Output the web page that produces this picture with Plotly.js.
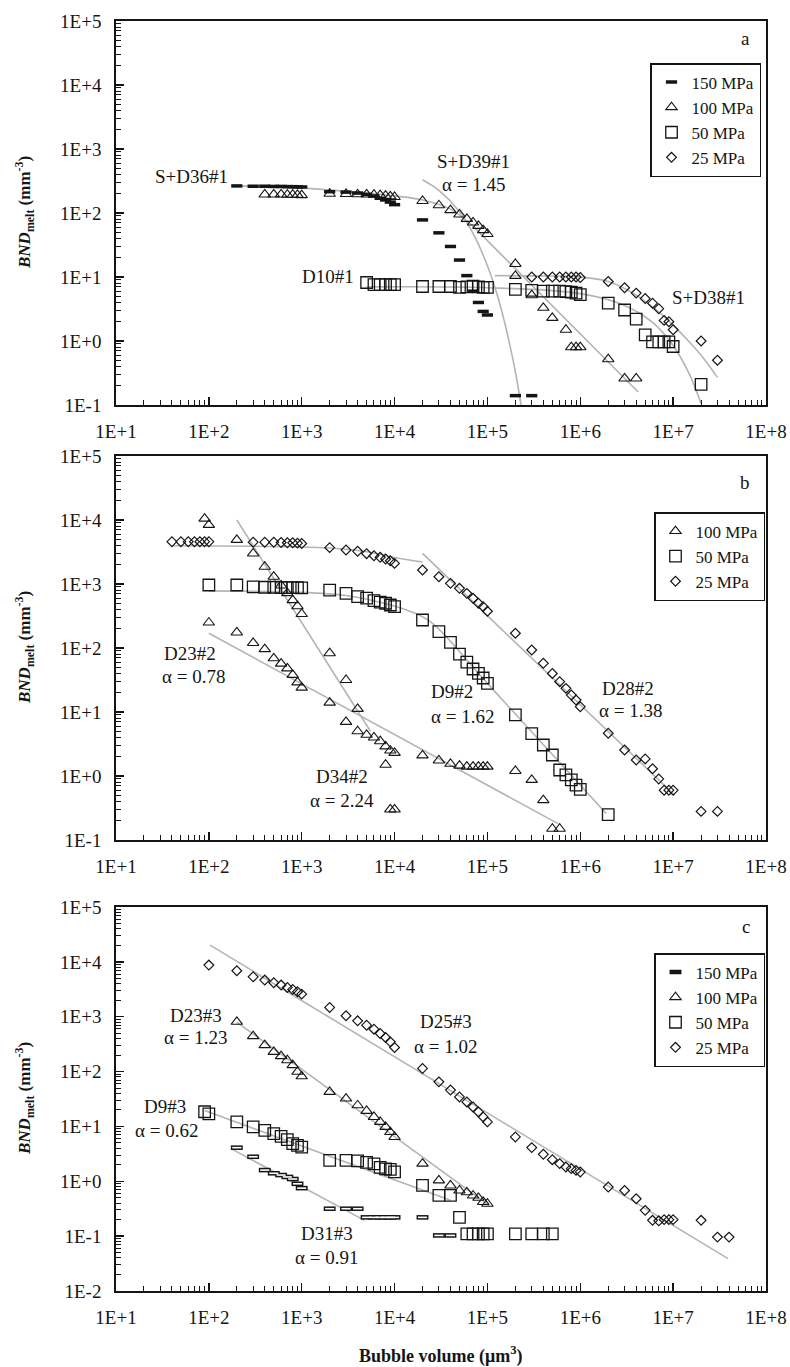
<!DOCTYPE html>
<html><head><meta charset="utf-8">
<script src="https://cdn.plot.ly/plotly-3.0.1.min.js"></script>
<style>html,body{margin:0;padding:0;background:#fff}#chart{width:790px;height:1367px}</style>
</head><body><div id="chart"></div>
<script>
// ================= DATA =================
// ---- Panel a ----
const a150_x = [2e2,3e2,4e2,5e2,6e2,7e2,8e2,9e2,1e3, 2e3,3e3,4e3,5e3,6e3,7e3,8e3,9e3,1e4, 2e4,3e4,4e4,5e4,6e4,7e4,8e4,9e4,1e5, 2e5,3e5];
const a150_y = [265,262,262,260,260,258,258,256,255, 215,212,205,195,185,170,160,148,135, 78,49,30,18.4,10.5,6,4,2.9,2.55, 0.14,0.14];
const a100_x = [4e2,5e2,6e2,7e2,8e2,9e2,1e3, 2e3,3e3,4e3,5e3,6e3,7e3,8e3,9e3,1e4, 2e4,3e4,4e4,5e4,6e4,7e4,8e4,9e4,1e5, 2e5,2e5, 3e5,4e5,5e5,7e5,8e5,9e5,1e6, 2e6,3e6,4e6];
const a100_y = [195,195,195,193,193,192,190, 200,198,196,195,193,190,186,182,178, 154,132,111,95,81,71,63,54,47, 16,10.4, 5.2,3.3,2.3,1.5,0.8,0.8,0.8, 0.52,0.26,0.26];
const a50_x = [5e3,6e3,7e3,8e3,9e3,1e4, 2e4,3e4,4e4,5e4,6e4,7e4,8e4,9e4,1e5, 2e5,3e5,4e5,5e5,6e5,7e5,8e5,9e5,1e6, 2e6,3e6,4e6,5e6,6e6,7e6,8e6,9e6,1e7, 2e7];
const a50_y = [8.2,7.6,7.6,7.6,7.6,7.6, 7.1,7.1,7.1,6.9,7.0,7.2,7.0,6.9,6.9, 6.4,6.2,6.0,6.0,6.0,5.9,5.8,5.6,5.3, 3.9,3.05,2.2,1.25,0.97,0.97,0.97,0.97,0.82, 0.21];
const a25_x = [3e5,4e5,5e5,6e5,7e5,8e5,9e5,1e6, 2e6,3e6,4e6,5e6,6e6,7e6,8e6,9e6,1e7, 2e7,3e7];
const a25_y = [10,10,10,10,10,10,10,9.8, 8.5,6.8,5.6,4.6,3.9,3.2,2.1,2.0,1.5, 1.0,0.5];
// fitted curves, panel a
const fitA_S36_x = [2e4,3e4,5e4,7e4,1e5,1.3e5,1.6e5,2e5,2.3e5];
const fitA_S36_y = [330,225,105,48,15,4.8,1.5,0.33,0.1];
const fitA_S39_x = [2e2,1e3,5e3,1e4,2e4,4e4,7e4,1e5,2e5,4.2e6];
const fitA_S39_y = [265,245,205,185,160,115,62,37,13.5,0.16];
const fitA_D10_x = [5e3,1e5,1e6,3e6,6e6,1e7,1.5e7,2e7];
const fitA_D10_y = [7.0,6.8,5.5,3.6,1.95,0.85,0.3,0.105];
const fitA_S38_x = [1.2e5,3e5,1e6,2e6,4e6,8e6,1.3e7,2e7,3e7];
const fitA_S38_y = [10.5,10.4,10,8.5,5.2,2.4,1.2,0.6,0.27];

// ---- Panel b ----
const bD34_x = [9e1,1e2,2e2,3e2,4e2,5e2,6e2,7e2,8e2,9e2,1e3, 2e3,3e3,4e3, 8e3,9e3,1e4];
const bD34_y = [10500,8400,4900,3000,1860,1300,950,720,560,450,340, 83,31.6,11.2, 1.5,0.3,0.3];
const bD23_x = [1e2,2e2,3e2,4e2,5e2,6e2,7e2,8e2,9e2,1e3, 2e3, 3e3,4e3,5e3,6e3,7e3,8e3,9e3,1e4, 2e4,3e4,4e4,5e4,6e4,7e4,8e4,9e4,1e5, 2e5,3e5,4e5,5e5,6e5];
const bD23_y = [250,175,120,96,69,57,48,38,29,24, 14, 7.0,5.0,4.4,4.0,3.5,2.9,2.5,2.3, 2.1,1.75,1.55,1.45,1.4,1.4,1.4,1.4,1.4, 1.2,0.87,0.42,0.15,0.15];
const b50_x = [1e2,2e2,3e2,4e2,5e2,6e2,7e2,8e2,9e2,1e3, 2e3,3e3,4e3,5e3,6e3,7e3,8e3,9e3,1e4, 2e4,3e4,4e4,5e4,6e4,7e4,8e4,9e4,1e5, 2e5,3e5,4e5,5e5,6e5,7e5,8e5,9e5,1e6, 2e6];
const b50_y = [964,964,900,890,890,880,880,880,875,870, 800,714,634,600,550,520,500,470,443, 274,180,122,80,60,47,40,34,28, 9.0,4.6,3.05,2.13,1.24,1.04,0.87,0.72,0.62, 0.25];
const b25_x = [4e1,5e1,6e1,7e1,8e1,9e1,1e2, 3e2,4e2,5e2,6e2,7e2,8e2,9e2,1e3, 2e3,3e3,4e3,5e3,6e3,7e3,8e3,9e3,1e4, 2e4,3e4,4e4,5e4,6e4,7e4,8e4,9e4,1e5, 2e5,3e5,4e5,5e5,6e5,7e5,8e5,9e5,1e6, 2e6,3e6,4e6,5e6,6e6,7e6,8e6,9e6,1e7, 2e7,3e7];
const b25_y = [4580,4580,4580,4580,4580,4580,4580, 4500,4500,4500,4450,4400,4400,4350,4300, 3700,3400,3240,2980,2770,2610,2460,2300,2100, 1655,1300,1023,855,714,597,499,443,375, 170,93,57.6,40,29.8,23.4,18.4,15.4,12.1, 4.65,2.55,1.78,1.85,1.3,0.9,0.6,0.6,0.6, 0.28,0.28];
// fitted curves, panel b
const fitB_D28a_x = [4e1,2e3,5e3,1e4,2e4];
const fitB_D28a_y = [3950,3650,3200,2600,2200];
const fitB_D28b_x = [2e4,1.04e7];
const fitB_D28b_y = [3010,0.5];
const fitB_D9_x = [1e2,1e3,3e3,7e3,1.5e4,2.5e4,1e5,1.9e6];
const fitB_D9_y = [780,740,660,520,370,250,28,0.26];
const fitB_D23_x = [1e2,5.75e5];
const fitB_D23_y = [170,0.18];
const fitB_D34_x = [2e2,5.5e3];
const fitB_D34_y = [10000,5];

// ---- Panel c ----
const c150_x = [2e2,3e2,4e2,5e2,6e2,7e2,8e2,9e2,1e3, 2e3,3e3,4e3, 5e3,6e3,7e3,8e3,9e3,1e4, 2e4, 3e4,4e4];
const c150_y = [4.1,2.8,1.6,1.4,1.3,1.2,1.1,0.9,0.75, 0.316,0.316,0.316, 0.22,0.22,0.22,0.22,0.22,0.22, 0.22, 0.103,0.103];
const c100_x = [2e2,3e2,4e2,5e2,6e2,7e2,8e2,9e2,1e3, 2e3,3e3,4e3,5e3,6e3,7e3,8e3,9e3,1e4, 2e4,3e4,4e4,5e4,6e4,7e4,8e4,9e4,1e5];
const c100_y = [807,442,303,229,191,161,131,99,82, 42.6,32.2,24.3,19.2,14.9,12.1,9.8,7.9,6.43, 2.1,1.04,0.84,0.68,0.63,0.55,0.5,0.42,0.39];
const c50_x = [9e1,1e2,2e2,3e2,4e2,5e2,6e2,7e2,8e2,9e2,1e3, 2e3,3e3,4e3,5e3,6e3,7e3,8e3,9e3,1e4, 2e4,3e4,4e4,5e4, 6e4,7e4,8e4,9e4,1e5, 2e5,3e5,4e5,5e5];
const c50_y = [18.5,17,12.1,9.8,8.5,7.4,6.6,5.75,4.86,4.53,4.2, 2.41,2.4,2.35,2.22,2.07,1.8,1.68,1.65,1.48, 0.84,0.555,0.555,0.22, 0.11,0.11,0.11,0.11,0.11, 0.11,0.11,0.11,0.11];
const c25_x = [1e2,2e2,3e2,4e2,5e2,6e2,7e2,8e2,9e2,1e3, 2e3,3e3,4e3,5e3,6e3,7e3,8e3,9e3,1e4, 2e4,3e4,4e4,5e4,6e4,7e4,8e4,9e4,1e5, 2e5,3e5,4e5,5e5,6e5,7e5,8e5,9e5,1e6, 2e6,3e6,4e6,5e6,6e6,7e6,8e6,9e6,1e7, 2e7,3e7,4e7];
const c25_y = [8730,6880,5340,4650,4160,3770,3420,3140,2850,2580, 1476,1040,841,701,593,494,418,348,275, 114,64.9,46,34.5,28,22.7,18.4,14.9,12.1, 6.43,4.11,3.1,2.48,2.1,1.82,1.7,1.58,1.48, 0.785,0.68,0.48,0.295,0.194,0.19,0.2,0.2,0.2, 0.194,0.096,0.096];
// fitted curves, panel c
const fitC_D25_x = [1.03e2,3.9e7];
const fitC_D25_y = [20200,0.039];
const fitC_D23_x = [2e2,1.05e5];
const fitC_D23_y = [800,0.36];
const fitC_D9_x = [9e1,4e4];
const fitC_D9_y = [19.5,0.45];
const fitC_D31_x = [1.73e2,4.75e3];
const fitC_D31_y = [3.94,0.194];

// legend names
const seriesNames = ['150 MPa','100 MPa','50 MPa','25 MPa'];

// ================= STYLE / LAYOUT =================
const FONT = 'Liberation Serif, Times New Roman, serif';
const INK = '#151515';
const FITC = '#b4b4b4';
const W = 790, H = 1367;
const M = {l:116, r:24, t:21, b:76};
const PH = H - M.t - M.b, PW = W - M.l - M.r;
const panels = [{top:21,bottom:405},{top:456,bottom:840},{top:907,bottom:1291}];
const dom = p => [1-(p.bottom-M.t)/PH, 1-(p.top-M.t)/PH];
const pxX = x => (x - M.l)/PW;
const pxY = y => 1 - (y - M.t)/PH;

const traces = [];
function fit(x, y, ax, curved){
  traces.push({type:'scatter', mode:'lines', x:x, y:y, xaxis:ax[0], yaxis:ax[1],
    line:{color:FITC, width:1.6, shape: curved ? 'spline':'linear', smoothing:1}, showlegend:false, hoverinfo:'skip'});
}
function pts(x, y, ax, name, sym, size, lw, leg, show, color){
  const c = color || INK;
  traces.push({type:'scatter', mode:'markers', x:x, y:y, xaxis:ax[0], yaxis:ax[1], name:name,
    legend:leg, showlegend:show,
    marker:{symbol:sym, size:size, color:c, line:{color:c, width:lw}}});
}
const AX = [['x','y'],['x2','y2'],['x3','y3']];
const TRI = ['triangle-up-open', 10, 1.1];
const SQ = ['square-open', 11.5, 1.3];
const DIA = ['diamond-open', 7.5, 1.2];

// panel a
fit(fitA_S36_x, fitA_S36_y, AX[0], true);
fit(fitA_S39_x, fitA_S39_y, AX[0], true);
fit(fitA_D10_x, fitA_D10_y, AX[0], true);
fit(fitA_S38_x, fitA_S38_y, AX[0], true);
pts(a150_x, a150_y, AX[0], seriesNames[0], 'line-ew', 8, 3.5, 'legend', true);
pts(a100_x, a100_y, AX[0], seriesNames[1], TRI[0], TRI[1], TRI[2], 'legend', true);
pts(a50_x, a50_y, AX[0], seriesNames[2], SQ[0], SQ[1], SQ[2], 'legend', true);
pts(a25_x, a25_y, AX[0], seriesNames[3], DIA[0], DIA[1], DIA[2], 'legend', true);
// panel b
fit(fitB_D28a_x, fitB_D28a_y, AX[1], true);
fit(fitB_D28b_x, fitB_D28b_y, AX[1], false);
fit(fitB_D9_x, fitB_D9_y, AX[1], true);
fit(fitB_D23_x, fitB_D23_y, AX[1], false);
fit(fitB_D34_x, fitB_D34_y, AX[1], false);
pts(bD34_x, bD34_y, AX[1], seriesNames[1], TRI[0], TRI[1], TRI[2], 'legend2', true);
pts(bD23_x, bD23_y, AX[1], seriesNames[1], TRI[0], TRI[1], TRI[2], 'legend2', false);
pts(b50_x, b50_y, AX[1], seriesNames[2], SQ[0], SQ[1], SQ[2], 'legend2', true);
pts(b25_x, b25_y, AX[1], seriesNames[3], DIA[0], DIA[1], DIA[2], 'legend2', true);
// panel c
fit(fitC_D25_x, fitC_D25_y, AX[2], false);
fit(fitC_D23_x, fitC_D23_y, AX[2], false);
fit(fitC_D9_x, fitC_D9_y, AX[2], false);
fit(fitC_D31_x, fitC_D31_y, AX[2], false);
pts(c150_x, c150_y, AX[2], seriesNames[0], 'line-ew', 8.5, 4.6, 'legend3', true);
pts(c150_x, c150_y, AX[2], seriesNames[0], 'line-ew', 6.5, 1.6, 'legend3', false, '#ffffff');
pts(c100_x, c100_y, AX[2], seriesNames[1], TRI[0], TRI[1], TRI[2], 'legend3', true);
pts(c50_x, c50_y, AX[2], seriesNames[2], SQ[0], SQ[1], SQ[2], 'legend3', true);
pts(c25_x, c25_y, AX[2], seriesNames[3], DIA[0], DIA[1], DIA[2], 'legend3', true);

// axes
function decades(lo, hi){ const v=[]; for(let e=lo;e<=hi;e++) v.push(Math.pow(10,e)); return v; }
function decLabels(lo, hi){ const t=[]; for(let e=lo;e<=hi;e++) t.push('1E' + (e<0?'-':'+') + Math.abs(e)); return t; }
function minors(lo, hi){ const v=[]; for(let e=lo;e<hi;e++) for(let k=2;k<=9;k++) v.push(k*Math.pow(10,e)); return v; }
const TICKFONT = {family:FONT, size:19, color:INK};
function xAxis(anchor){
  return {type:'log', range:[1,8], anchor:anchor, domain:[0,1],
    tickmode:'array', tickvals:decades(1,8), ticktext:decLabels(1,8),
    ticks:'inside', ticklen:8, tickwidth:1.5, tickcolor:INK,
    minor:{tickmode:'array', tickvals:minors(1,8), ticks:'inside', ticklen:5, tickwidth:1, tickcolor:INK, showgrid:false},
    showline:true, linecolor:INK, linewidth:1.8, mirror:true, showgrid:false, zeroline:false,
    tickfont:TICKFONT, ticklabelstandoff:8};
}
function yAxis(anchor, lo, hi, p){
  return {type:'log', range:[lo,hi], anchor:anchor, domain:dom(p),
    tickmode:'array', tickvals:decades(lo,hi), ticktext:decLabels(lo,hi),
    ticks:'inside', ticklen:8, tickwidth:1.5, tickcolor:INK,
    minor:{tickmode:'array', tickvals:minors(lo,hi), ticks:'inside', ticklen:5, tickwidth:1, tickcolor:INK, showgrid:false},
    showline:true, linecolor:INK, linewidth:1.8, mirror:true, showgrid:false, zeroline:false,
    tickfont:TICKFONT, ticklabelstandoff:9};
}

function legendBox(left, top){
  return {x:pxX(left), y:pxY(top), xanchor:'left', yanchor:'top', bgcolor:'#fff',
    bordercolor:INK, borderwidth:1.5, font:{family:FONT, size:17, color:INK},
    itemwidth:30, tracegroupgap:0, traceorder:'normal'};
}

const LBL = {family:FONT, size:19, color:INK};
function lab(ax, lx, ly, text, anchor){
  return {xref:ax[0], yref:ax[1], x:lx, y:ly, text:text, showarrow:false, font:LBL, xanchor:anchor||'center', yanchor:'middle'};
}
const ytitle = '<b><i>BND</i><sub>melt</sub> (mm<sup>-3</sup>)</b>';
const annotations = [
  lab(AX[0], 2.225, 2.567, 'S+D36#1', 'right'),
  lab(AX[0], 4.846, 2.802, 'S+D39#1'),
  lab(AX[0], 4.846, 2.453, 'α = 1.45'),
  lab(AX[0], 3.58, 1.005, 'D10#1', 'right'),
  lab(AX[0], 7.376, 0.672, 'S+D38#1'),
  lab(AX[0], 7.774, 4.72, 'a'),
  lab(AX[1], 1.80, 1.917, 'D23#2'),
  lab(AX[1], 1.834, 1.5625, 'α = 0.78'),
  lab(AX[1], 3.433, 0.0, 'D34#2'),
  lab(AX[1], 3.433, -0.375, 'α = 2.24'),
  lab(AX[1], 4.372, 1.317, 'D9#2', 'left'),
  lab(AX[1], 4.372, 0.9375, 'α = 1.62', 'left'),
  lab(AX[1], 6.509, 1.37, 'D28#2'),
  lab(AX[1], 6.536, 1.031, 'α = 1.38'),
  lab(AX[1], 7.774, 4.583, 'b'),
  lab(AX[2], 1.862, 3.029, 'D23#3'),
  lab(AX[2], 1.854, 2.622, 'α = 1.23'),
  lab(AX[2], 1.531, 1.368, 'D9#3'),
  lab(AX[2], 1.539, 0.93, 'α = 0.62'),
  lab(AX[2], 3.271, -0.955, 'D31#3'),
  lab(AX[2], 3.271, -1.382, 'α = 0.91'),
  lab(AX[2], 4.553, 2.907, 'D25#3'),
  lab(AX[2], 4.553, 2.463, 'α = 1.02'),
  lab(AX[2], 7.785, 4.64, 'c')
];
panels.forEach(p => {
  annotations.push({xref:'paper', yref:'paper', x:pxX(24), y:pxY((p.top+p.bottom)/2), text:ytitle,
    textangle:-90, showarrow:false, xanchor:'center', yanchor:'middle', font:{family:FONT, size:17, color:INK}});
});
annotations.push({xref:'paper', yref:'paper', x:pxX((M.l + W - M.r)/2), y:pxY(1355),
  text:'<b>Bubble volume (μm<sup>3</sup>)</b>', showarrow:false, xanchor:'center', yanchor:'middle',
  font:{family:FONT, size:18, color:INK}});

const layout = {
  width:W, height:H, margin:M, paper_bgcolor:'#fff', plot_bgcolor:'#fff',
  font:{family:FONT, color:INK}, hovermode:false,
  xaxis:xAxis('y'), xaxis2:xAxis('y2'), xaxis3:xAxis('y3'),
  yaxis:yAxis('x', -1, 5, panels[0]), yaxis2:yAxis('x2', -1, 5, panels[1]), yaxis3:yAxis('x3', -2, 5, panels[2]),
  legend:legendBox(650, 63), legend2:legendBox(654, 512), legend3:legendBox(654, 953),
  annotations:annotations
};
Plotly.newPlot('chart', traces, layout, {staticPlot:true, displayModeBar:false});
</script></body></html>
